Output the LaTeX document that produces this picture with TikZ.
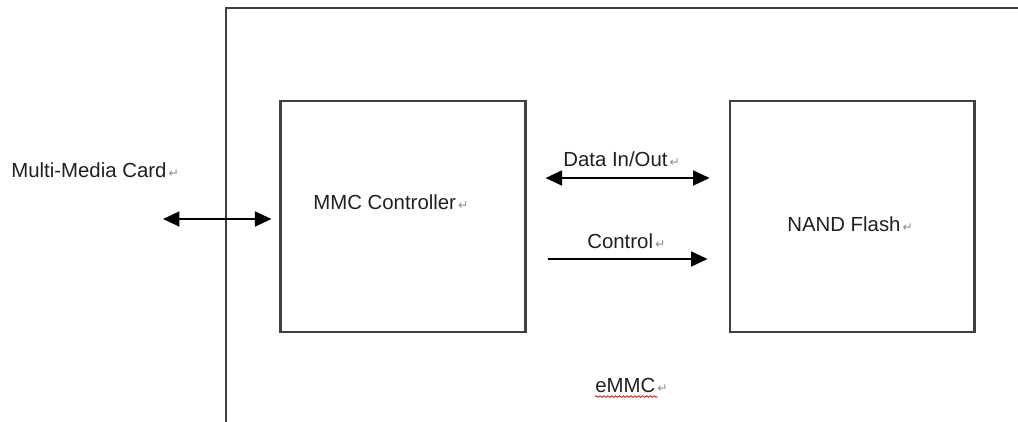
\documentclass[tikz,border=0pt]{standalone}
\usepackage{fontspec}
\setmainfont{Liberation Sans}
\newfontfamily\dejavu{DejaVu Sans}
\usepackage{xcolor}
\usetikzlibrary{positioning,arrows.meta,decorations.pathmorphing}
\definecolor{frame}{rgb}{0.25, 0.25, 0.25}
\definecolor{ink}{rgb}{0.12, 0.12, 0.14}
\definecolor{mark}{rgb}{0.55, 0.55, 0.55}
\definecolor{spell}{rgb}{0.85, 0.15, 0.10}
\newcommand{\retmark}{\rlap{\dejavu\fontsize{7}{8}\selectfont\color{mark}\,↵}}

\begin{document}
\begin{tikzpicture}[x=0.02cm,y=-0.02cm,
        block/.style={draw=frame,line width=1.25pt,minimum width=4.9cm,minimum height=4.62cm},
        txt/.style={anchor=base west,inner sep=0pt,text=ink,font=\fontsize{11.6}{13}\selectfont},
        link/.style={line width=1pt,draw=black,shorten <=#1,shorten >=#1},
        tipA/.tip={Triangle[length=0.33cm,width=0.3cm]}]
        \useasboundingbox (0,0) rectangle (1018,422);
        % eMMC frame runs off the right and bottom of the picture
        \draw[draw=frame,line width=1.25pt] (226,440) -- (226,8) -- (1040,8);
        \node[block] (mmc) at (403,216.5) {};
        \node[block,right=4.04cm of mmc] (nand) {};
        \coordinate (card) at (163,219);
        \foreach \name/\txtname/\x/\y in {{Multi-Media Card}/lcard/11/178, {MMC Controller}/lmmc/313/210, {Data In/Out}/ldata/563/167, {Control}/lctrl/587/249, {NAND Flash}/lnand/787/232, {eMMC}/lemmc/595/392}{
            \node[txt] (\txtname) at (\x,\y) {\name\retmark};
        }
        % wavy spell-check underline below eMMC
        \draw[spell,line width=0.5pt,decorate,decoration={snake,amplitude=0.45pt,segment length=2.2pt}] ([yshift=-2.6pt]lemmc.base west) -- ([yshift=-2.6pt,xshift=1pt]lemmc.base east);
        \draw[link=0pt,{tipA}-{tipA}] (card) -- ([yshift=-0.05cm,xshift=-0.16cm]mmc.west);
        \draw[link=0.38cm,{tipA}-{tipA}] ([yshift=0.77cm]mmc.east) -- ([yshift=0.77cm]nand.west);
        \draw[link=0.42cm,-{tipA}] ([yshift=-0.85cm]mmc.east) -- ([yshift=-0.85cm]nand.west);
    \end{tikzpicture}
\end{document}
